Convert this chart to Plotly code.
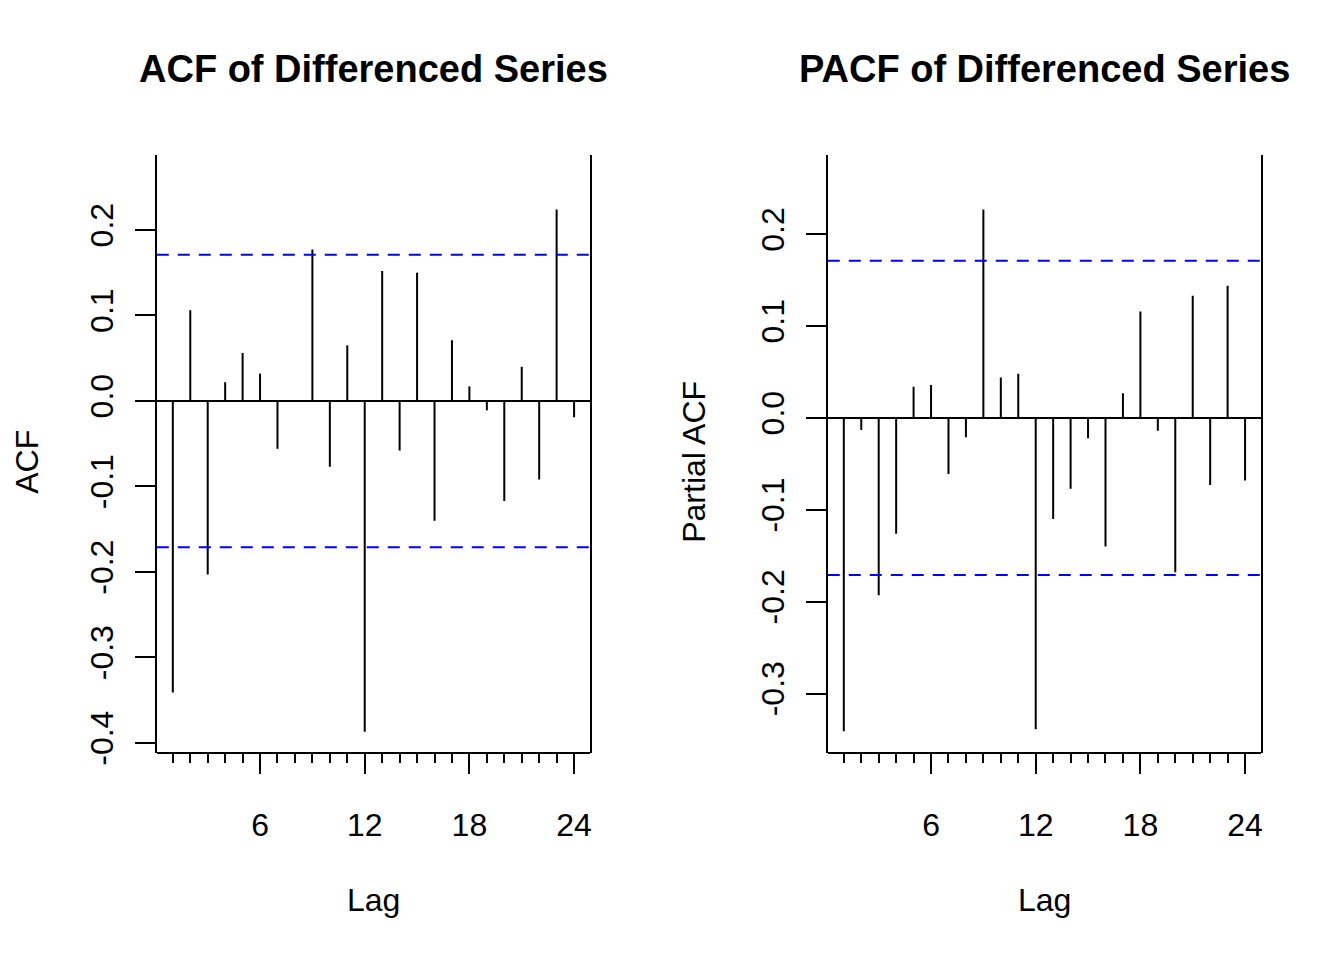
import plotly.graph_objects as go

# lag axis and estimated correlations
lags = list(range(1, 25))
acf_values = [-0.341, 0.106, -0.203, 0.022, 0.056, 0.032, -0.056, -0.001,
              0.177, -0.077, 0.065, -0.387, 0.152, -0.058, 0.150, -0.140,
              0.071, 0.017, -0.011, -0.117, 0.040, -0.092, 0.224, -0.019]
pacf_values = [-0.341, -0.013, -0.193, -0.126, 0.034, 0.036, -0.061, -0.021,
               0.227, 0.044, 0.048, -0.339, -0.110, -0.077, -0.022, -0.140,
               0.027, 0.116, -0.014, -0.168, 0.133, -0.073, 0.144, -0.068]
conf_limit = 0.171

x_tickvals = [6, 12, 18, 24]
x_ticktext = ["6", "12", "18", "24"]
acf_tickvals = [-0.4, -0.3, -0.2, -0.1, 0.0, 0.1, 0.2]
acf_ticktext = ["-0.4", "-0.3", "-0.2", "-0.1", "0.0", "0.1", "0.2"]
pacf_tickvals = [-0.3, -0.2, -0.1, 0.0, 0.1, 0.2]
pacf_ticktext = ["-0.3", "-0.2", "-0.1", "0.0", "0.1", "0.2"]

# the page keeps the browser's 8px body margin, so the figure is made
# 16px smaller than the window and positions below are given in window px
PAGE_W, PAGE_H, BODY_MARGIN = 1344, 960, 8
W, H = PAGE_W - 2 * BODY_MARGIN, PAGE_H - 2 * BODY_MARGIN
FONT = "Liberation Sans, Arial, Helvetica, sans-serif"
# paper-referenced annotations came out ~1.3% higher than asked; measured
ANN_Y_SCALE = 0.9866


def px_x(x):
    return (x - BODY_MARGIN) / W


def px_y(y):
    return 1 - (y - BODY_MARGIN) / H


def ann_y(y):
    return 1 - (y - BODY_MARGIN) / ANN_Y_SCALE / H


def stems(lag, vals):
    # vertical segments from zero to each value, separated by gaps
    xs, ys = [], []
    for l, v in zip(lag, vals):
        xs += [l, l, None]
        ys += [0, v, None]
    return xs, ys


fig = go.Figure()

for i, vals in enumerate([acf_values, pacf_values]):
    xs, ys = stems(lags, vals)
    suffix = "" if i == 0 else "2"
    fig.add_trace(go.Scatter(
        x=xs, y=ys, mode="lines",
        line=dict(color="black", width=2),
        xaxis="x" + suffix, yaxis="y" + suffix,
        showlegend=False, hoverinfo="skip",
    ))
    for c in (conf_limit, -conf_limit):
        fig.add_shape(
            type="line", xref=f"x{suffix} domain", yref="y" + suffix,
            x0=0, x1=1, y0=c, y1=c,
            line=dict(color="#0000FF", width=2, dash="12px,9px"),
        )

xaxis_common = dict(
    range=[0.08, 24.92],
    tickmode="array", tickvals=x_tickvals, ticktext=x_ticktext,
    ticks="outside", ticklen=20, tickwidth=2, tickcolor="black",
    minor=dict(tickmode="array", tickvals=lags, ticks="outside",
               ticklen=9, tickwidth=2, tickcolor="black"),
    showline=True, linecolor="black", linewidth=2, mirror=True,
    showgrid=False, zeroline=False,
    tickfont=dict(size=32, color="black", family=FONT),
    ticklabelstandoff=24,
    anchor="free",
)
yaxis_common = dict(
    tickmode="array",
    ticks="outside", ticklen=20, tickwidth=2, tickcolor="black",
    tickangle=-90,
    showline=True, linecolor="black", linewidth=2, mirror=True,
    showgrid=False,
    zeroline=True, zerolinecolor="black", zerolinewidth=2,
    tickfont=dict(size=32, color="black", family=FONT),
    ticklabelstandoff=9,
)

y_lo, y_hi = px_y(763), px_y(157)

fig.update_layout(
    width=W, height=H,
    margin=dict(l=0, r=0, t=0, b=0),
    paper_bgcolor="white", plot_bgcolor="white",
    font=dict(family=FONT, color="black"),
    xaxis=dict(xaxis_common, domain=[px_x(157), px_x(591)], position=y_lo),
    xaxis2=dict(xaxis_common, domain=[px_x(829), px_x(1263)], position=y_lo),
    yaxis=dict(yaxis_common, domain=[y_lo, y_hi], range=[-0.4113, 0.2877],
               tickvals=acf_tickvals, ticktext=acf_ticktext, anchor="x"),
    yaxis2=dict(yaxis_common, domain=[y_lo, y_hi], range=[-0.3643, 0.2863],
                tickvals=pacf_tickvals, ticktext=pacf_ticktext, anchor="x2"),
)

# titles and axis labels, placed like the base-graphics margins
labels = [
    ("<b>ACF of Differenced Series</b>", 374, 69, 38, 0),
    ("<b>PACF of Differenced Series</b>", 1046, 69, 38, 0),
    ("Lag", 374, 900, 32, 0),
    ("Lag", 1046, 900, 32, 0),
    ("ACF", 27, 462, 32, -90),
    ("Partial ACF", 695, 462, 32, -90),
]
for text, lx, ly, size, angle in labels:
    fig.add_annotation(
        text=text, xref="paper", yref="paper",
        x=px_x(lx), y=ann_y(ly), xanchor="center", yanchor="middle",
        showarrow=False, textangle=angle,
        font=dict(size=size, color="black", family=FONT),
    )

fig.write_html("out.html", config={"displayModeBar": False})
